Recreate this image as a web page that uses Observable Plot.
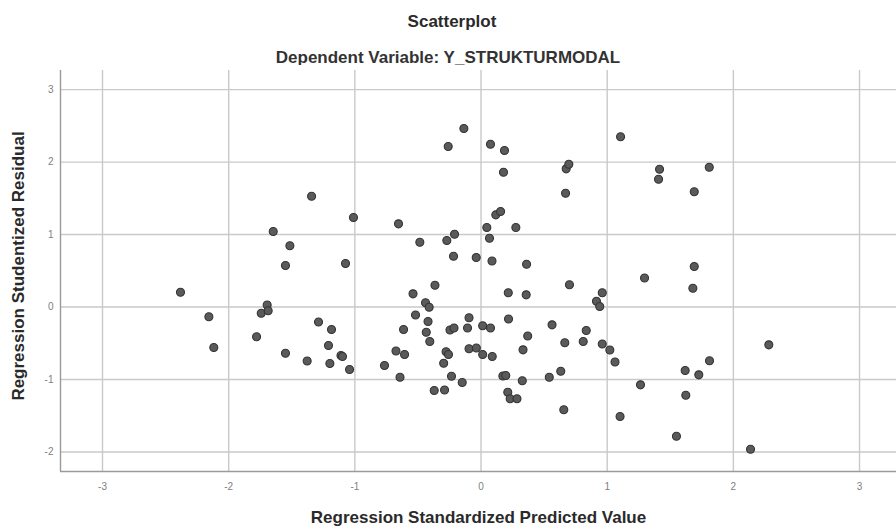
<!DOCTYPE html>
<html>
<head>
<meta charset="utf-8">
<script src="https://cdn.jsdelivr.net/npm/d3@7"></script>
<script src="https://cdn.jsdelivr.net/npm/@observablehq/plot@0.6"></script>
<style>
  body { margin: 0; background: #fff; }
  #wrap { position: relative; width: 896px; height: 527px; font-family: "Liberation Sans", Arial, sans-serif; color: #2a2a2a; }
  .ttl { position: absolute; left: 0; width: 896px; text-align: center; font-weight: bold; font-size: 17px; line-height: 18px; }
  #t1 { top: 13px; padding-left: 8px; box-sizing: border-box; }
  #t2 { top: 49px; color: #333; }
  #chart { position: absolute; left: 0; top: 65px; }
</style>
</head>
<body>
<div id="wrap">
  <div class="ttl" id="t1">Scatterplot</div>
  <div class="ttl" id="t2">Dependent Variable: Y_STRUKTURMODAL</div>
  <div id="chart"></div>
</div>
<script>
const titleText = "Scatterplot";
const subtitleText = "Dependent Variable: Y_STRUKTURMODAL";
const xLabel = "Regression Standardized Predicted Value";
const yLabel = "Regression Studentized Residual";
const xTicks = [-3, -2, -1, 0, 1, 2, 3];
const yTicks = [-2, -1, 0, 1, 2, 3];
const xDomain = [-3.333, 3.293];
const yDomain = [-2.27, 3.264];

// Regression Standardized Predicted Value
const predicted = [
  -2.382, -2.157, -2.118, -1.779, -1.742, -1.695, -1.687, -1.647, -1.515, -1.550,
  -1.550, -1.343, -1.378, -1.288, -1.185, -1.209, -1.198, -1.110, -1.098, -1.074,
  -1.042, -1.011, -0.765, -0.674, -0.606, -0.654, -0.642, -0.614, -0.539, -0.519,
  -0.485, -0.440, -0.411, -0.420, -0.434, -0.406, -0.365, -0.371, -0.289, -0.296,
  -0.277, -0.258, -0.271, -0.260, -0.246, -0.214, -0.234, -0.218, -0.210, -0.149,
  -0.136, -0.107, -0.095, -0.095, -0.037, -0.038, 0.013, 0.013, 0.046, 0.067,
  0.075, 0.075, 0.087, 0.089, 0.117, 0.155, 0.178, 0.186, 0.216, 0.218,
  0.173, 0.196, 0.212, 0.231, 0.285, 0.276, 0.327, 0.333, 0.358, 0.361,
  0.370, 0.541, 0.563, 0.632, 0.656, 0.664, 0.670, 0.675, 0.696, 0.701,
  0.810, 0.834, 0.915, 0.941, 0.961, 0.961, 1.021, 1.062, 1.102, 1.106,
  1.264, 1.296, 1.407, 1.415, 1.549, 1.618, 1.623, 1.679, 1.690, 1.690,
  1.726, 1.809, 1.811, 2.136, 2.281
];
// Regression Studentized Residual
const residual = [
  0.204, -0.135, -0.559, -0.411, -0.086, 0.028, -0.052, 1.042, 0.845, 0.573,
  -0.638, 1.529, -0.745, -0.207, -0.311, -0.531, -0.780, -0.669, -0.683, 0.600,
  -0.863, 1.235, -0.807, -0.607, -0.656, 1.148, -0.969, -0.311, 0.182, -0.110,
  0.894, 0.058, -0.003, -0.200, -0.348, -0.476, 0.301, -1.152, -1.145, -0.776,
  -0.617, -0.656, 0.918, 2.215, -0.317, -0.290, -0.955, 0.701, 1.005, -1.042,
  2.463, -0.290, -0.149, -0.575, -0.566, 0.683, -0.656, -0.259, 1.097, 0.949,
  2.247, -0.290, 0.635, -0.683, 1.272, 1.318, 1.860, 2.160, 0.197, -0.166,
  -0.952, -0.945, -1.177, -1.267, -1.267, 1.097, -1.018, -0.591, 0.168, 0.591,
  -0.400, -0.970, -0.246, -0.886, -1.417, -0.493, 1.571, 1.907, 1.971, 0.308,
  -0.476, -0.324, 0.080, 0.007, 0.196, -0.511, -0.593, -0.759, -1.511, 2.349,
  -1.074, 0.400, 1.764, 1.902, -1.783, -0.876, -1.217, 0.259, 0.559, 1.590,
  -0.936, 1.929, -0.742, -1.962, -0.522
];

const points = predicted.map((x, i) => ({x, y: residual[i]}));
const tickLabel = d => String(d);

document.getElementById("t1").textContent = titleText;
document.getElementById("t2").textContent = subtitleText;

const chart = Plot.plot({
  width: 896,
  height: 462,
  marginTop: 5,
  marginBottom: 56,
  marginLeft: 60,
  marginRight: 0,
  style: { fontFamily: "'Liberation Sans', Arial, sans-serif", background: "#fff", overflow: "visible" },
  x: { domain: xDomain, ticks: xTicks },
  y: { domain: yDomain, ticks: yTicks },
  marks: [
    Plot.gridX(xTicks, { stroke: "#c9c9c9", strokeOpacity: 1, strokeWidth: 1.4 }),
    Plot.gridY(yTicks, { stroke: "#c9c9c9", strokeOpacity: 1, strokeWidth: 1.4 }),
    Plot.ruleX([xDomain[0]], { stroke: "#9a9a9a", strokeWidth: 1.4 }),
    Plot.ruleY([yDomain[0]], { stroke: "#9a9a9a", strokeWidth: 1.4 }),
    Plot.axisX(xTicks, { tickSize: 0, tickPadding: 11, fontSize: 10, fill: "#808080", label: null, tickFormat: tickLabel }),
    Plot.axisY(yTicks, { tickSize: 0, tickPadding: 7, fontSize: 10, fill: "#808080", label: null, tickFormat: tickLabel }),
    Plot.dot(points, { x: "x", y: "y", r: 4, fill: "#5a5a5a", stroke: "#333", strokeWidth: 1.1 }),
    Plot.text([xLabel], { frameAnchor: "bottom", dy: 46, text: d => d, fontSize: 17, fontWeight: "bold", fill: "#2a2a2a", lineAnchor: "middle", textAnchor: "middle" }),
    Plot.text([yLabel], { frameAnchor: "left", dx: -42, dy: -5, rotate: -90, text: d => d, fontSize: 17, fontWeight: "bold", fill: "#2a2a2a", lineAnchor: "middle", textAnchor: "middle" })
  ]
});
document.getElementById("chart").appendChild(chart);
</script>
</body>
</html>
